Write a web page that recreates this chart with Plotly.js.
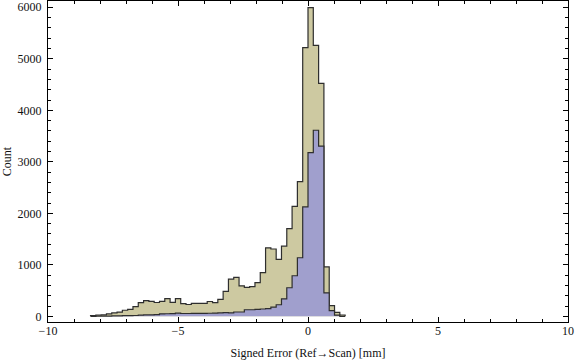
<!DOCTYPE html>
<html>
<head>
<meta charset="utf-8">
<script src="https://cdn.plot.ly/plotly-3.0.1.min.js"></script>
<style>
html,body{margin:0;padding:0;background:#fff;}
#chart{width:576px;height:362px;}
</style>
</head>
<body>
<div id="chart"></div>
<script>
// Histogram definition (bin edges = binLow + k*binWidth)
const binLow = -8.364;
const binWidth = 0.204;
// Counts per bin, all errors (tan)
const countsAll = [12, 22, 28, 47, 67, 82, 118, 135, 188, 265,
  305, 291, 269, 292, 342, 272, 342, 248, 230, 250,
  250, 250, 288, 268, 328, 484, 722, 755, 593, 562,
  577, 655, 849, 1330, 1307, 1104, 1362, 1704, 2135, 2615,
  5215, 5995, 5262, 4522, 960, 207, 78, 26];
// Counts per bin, subset (blue)
const countsSub = [0, 2, 4, 6, 8, 10, 12, 14, 16, 25,
  28, 30, 32, 48, 50, 52, 62, 55, 55, 57,
  57, 58, 60, 62, 66, 72, 68, 84, 84, 128,
  128, 135, 142, 150, 178, 225, 340, 555, 788, 1137,
  2125, 3178, 3613, 3305, 456, 110, 25, 0];
const xTickVals = [-10, -5, 0, 5, 10];
const yTickVals = [0, 1000, 2000, 3000, 4000, 5000, 6000];

function stepTrace(counts, fillColor) {
  const xs = [binLow];
  const ys = [0];
  for (let i = 0; i < counts.length; i++) {
    xs.push(binLow + i * binWidth);
    ys.push(counts[i]);
  }
  xs.push(binLow + counts.length * binWidth);
  ys.push(0);
  return {
    type: 'scatter', mode: 'lines', x: xs, y: ys,
    line: {shape: 'hv', color: '#2e2e2e', width: 1.2},
    fill: 'tozeroy', fillcolor: fillColor, hoverinfo: 'skip', showlegend: false
  };
}

const data = [
  stepTrace(countsAll, 'rgb(205,201,161)'),
  stepTrace(countsSub, 'rgb(160,159,205)')
];

const font = {family: 'Liberation Serif, Times New Roman, serif', size: 12, color: '#111'};

const layout = {
  width: 576, height: 362,
  margin: {l: 48, r: 8, t: 1, b: 40},
  paper_bgcolor: '#fff', plot_bgcolor: '#fff',
  font: font,
  showlegend: false,
  xaxis: {
    range: [-10, 10], tickmode: 'array', tickvals: xTickVals,
    ticks: 'inside', ticklen: 5, tickwidth: 1, tickcolor: '#000',
    minor: {dtick: 1, ticks: 'inside', ticklen: 3, tickcolor: '#000', tickwidth: 1},
    showline: true, linecolor: '#000', linewidth: 1, mirror: 'ticks',
    showgrid: false, zeroline: false, ticklabelstandoff: -2,
    title: {text: 'Signed Error (Ref\u2192Scan) [mm]', font: font, standoff: 11}
  },
  yaxis: {
    range: [-110, 6122], tickmode: 'array', tickvals: yTickVals,
    ticks: 'inside', ticklen: 5, tickwidth: 1, tickcolor: '#000',
    minor: {dtick: 200, ticks: 'inside', ticklen: 3, tickcolor: '#000', tickwidth: 1},
    showline: true, linecolor: '#000', linewidth: 1, mirror: 'ticks',
    showgrid: false, zeroline: false, ticklabelstandoff: 3,
    title: {text: 'Count', font: font, standoff: 8}
  }
};

Plotly.newPlot('chart', data, layout, {staticPlot: true, displayModeBar: false});
</script>
</body>
</html>
